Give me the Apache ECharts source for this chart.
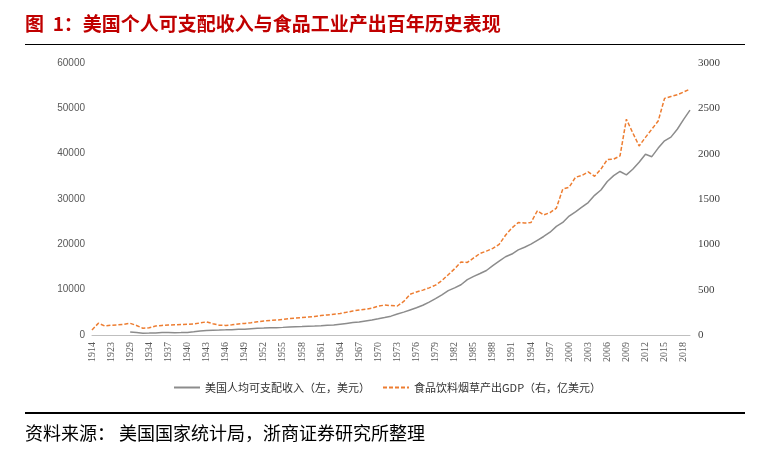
<!DOCTYPE html>
<html><head><meta charset="utf-8">
<script src="https://cdn.jsdelivr.net/npm/echarts@6/dist/echarts.min.js"></script>
<style>html,body{margin:0;padding:0;background:#fff}#c{width:768px;height:453px}</style>
</head><body><div id="c"></div>
<script>
var categories = ['1914','1919','1921','1923','1925','1927','1929','1931','1933'];
for (var y = 1934; y <= 2019; y++) categories.push(String(y));

var incomeName = '美国人均可支配收入（左，美元）';
var foodName = '食品饮料烟草产出GDP（右，亿美元）';

var income = [null,null,null,null,null,null,684,538,374,
 420,467,527,556,514,542,576,695,880,1003,
 1073,1090,1136,1185,1292,1268,1382,1489,1539,1600,
 1604,1682,1764,1832,1866,1953,2000,2058,2146,2226,
 2392,2561,2733,2891,3108,3324,3586,3855,4156,4638,
 5052,5524,6000,6556,7260,8016,8863,9782,10383,11081,
 12200,12922,13567,14230,15311,16283,17262,17863,18778,19351,
 20037,20890,21729,22677,23963,24835,26235,27170,28190,29223,
 30803,31992,33859,35149,36067,35325,36550,38092,39862,39336,
 41225,42823,43651,45382,47575,49600];

var food = [55,130,99,108,112,118,129,105,74,
 80,99,106,110,113,116,118,122,133,145,
 125,108,106,112,122,128,135,145,155,160,
 165,172,180,186,193,198,204,214,221,230,
 238,250,265,275,285,295,318,330,325,320,
 370,450,475,495,520,550,600,665,730,805,
 800,850,900,925,955,1000,1100,1180,1240,1235,
 1240,1370,1325,1350,1400,1610,1630,1740,1760,1800,
 1750,1830,1935,1940,1975,2380,2230,2085,2180,2270,
 2360,2610,2630,2650,2680,2712];

var leftTicks = {min:0, max:60000, interval:10000};
var rightTicks = {min:0, max:3000, interval:500};

var chart = echarts.init(document.getElementById('c'));
chart.setOption({
  backgroundColor:'#fff',
  animation:false,
  graphic:[
    {type:'text', left:25, top:14, style:{text:'图  1：美国个人可支配收入与食品工业产出百年历史表现', fill:'#C00000', font:'bold 19px "Noto Sans CJK SC"'}},
    {type:'line', shape:{x1:25,y1:44.5,x2:745,y2:44.5}, style:{stroke:'#000', lineWidth:1}},
    {type:'line', shape:{x1:25,y1:413,x2:745,y2:413}, style:{stroke:'#000', lineWidth:2}},
    {type:'text', left:25, top:424, style:{text:'资料来源： 美国国家统计局，浙商证券研究所整理', fill:'#000', font:'18px "Noto Sans CJK SC"'}}
  ],
  legend:{
    show:true, orient:'horizontal', top:377, left:168, itemWidth:26, itemHeight:10, itemGap:12,
    itemStyle:{opacity:0},
    textStyle:{fontFamily:'Noto Sans CJK SC', fontSize:11, color:'#333'},
    data:[incomeName, foodName]
  },
  grid:{left:92, right:78, top:63, bottom:118},
  xAxis:{
    type:'category', data:categories, boundaryGap:false,
    axisLine:{lineStyle:{color:'#bfbfbf'}},
    axisTick:{show:false},
    axisLabel:{interval:2, rotate:90, fontFamily:'Liberation Serif', fontSize:10, color:'#595959', margin:7}
  },
  yAxis:[
    {type:'value', min:leftTicks.min, max:leftTicks.max, interval:leftTicks.interval,
     splitLine:{show:false}, axisLine:{show:false}, axisTick:{show:false},
     axisLabel:{formatter:function(v){return String(v);}, fontFamily:'Liberation Sans', fontSize:10, color:'#595959', margin:7}},
    {type:'value', min:rightTicks.min, max:rightTicks.max, interval:rightTicks.interval,
     splitLine:{show:false}, axisLine:{show:false}, axisTick:{show:false},
     axisLabel:{formatter:function(v){return String(v);}, fontFamily:'Liberation Serif', fontSize:11, color:'#404040', margin:8}}
  ],
  series:[
    {name:incomeName, type:'line', data:income, yAxisIndex:0, showSymbol:false, symbol:'none',
     itemStyle:{color:'#8c8c8c'}, lineStyle:{color:'#8c8c8c', width:1.5}},
    {name:foodName, type:'line', data:food, yAxisIndex:1, showSymbol:false, symbol:'none',
     itemStyle:{color:'#ED7D31'}, lineStyle:{color:'#ED7D31', width:1.5, type:[4,2]}}
  ]
});
</script></body></html>
